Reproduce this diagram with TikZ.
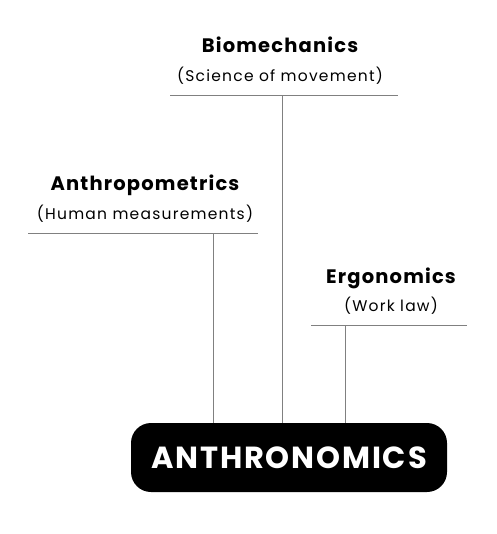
\documentclass[tikz,border=0pt]{standalone}
\usepackage{fontspec}
\setmainfont{Poppins}
\newfontfamily\headfont{Poppins}[LetterSpace=6]
\newfontfamily\subfont{Poppins}[LetterSpace=8]
\usetikzlibrary{positioning}
\tikzset{
  title/.style={font=\headfont\bfseries\fontsize{19.5}{22}\selectfont, inner sep=0pt, anchor=base},
  subtitle/.style={font=\subfont\fontsize{15.5}{18}\selectfont, inner sep=0pt, anchor=base},
  rule/.style={draw=black!50, line width=1pt},
  hub/.style={fill=black, text=white, rounded corners=20pt, minimum width=316pt, minimum height=69pt,
    font=\headfont\bfseries\fontsize{30.5}{33}\selectfont, inner sep=0pt}
}
\begin{document}
\begin{tikzpicture}[x=1pt,y=-1pt]
  \useasboundingbox (0,0) rectangle (496,534);

  % the hub
  \node[hub] (anthro) at (289,457.5) {ANTHRONOMICS};

  % biomechanics
  \node[title] (bio) at (280,53) {Biomechanics};
  \node[subtitle] (biosub) at (280,82) {(Science of movement)};
  \coordinate (bioL) at (170,96);
  \coordinate (bioR) at (398,96);
  \coordinate (bioJ) at (282,96);
  \draw[rule] (bioL) -- (bioR);
  \draw[rule] (bioJ) -- (bioJ |- anthro.north);

  % anthropometrics
  \node[title] (metric) at (145,191) {Anthropometrics};
  \node[subtitle] (metricsub) at (145,219) {(Human measurements)};
  \coordinate (metricL) at (28,233);
  \coordinate (metricR) at (258,233);
  \coordinate (metricJ) at (213,233);
  \draw[rule] (metricL) -- (metricR);
  \draw[rule] (metricJ) -- (metricJ |- anthro.north);

  % ergonomics
  \node[title] (ergo) at (391,283) {Ergonomics};
  \node[subtitle] (ergosub) at (391,311) {(Work law)};
  \coordinate (ergoL) at (311,325);
  \coordinate (ergoR) at (467,325);
  \coordinate (ergoJ) at (345,325);
  \draw[rule] (ergoL) -- (ergoR);
  \draw[rule] (ergoJ) -- (ergoJ |- anthro.north);
\end{tikzpicture}
\end{document}
